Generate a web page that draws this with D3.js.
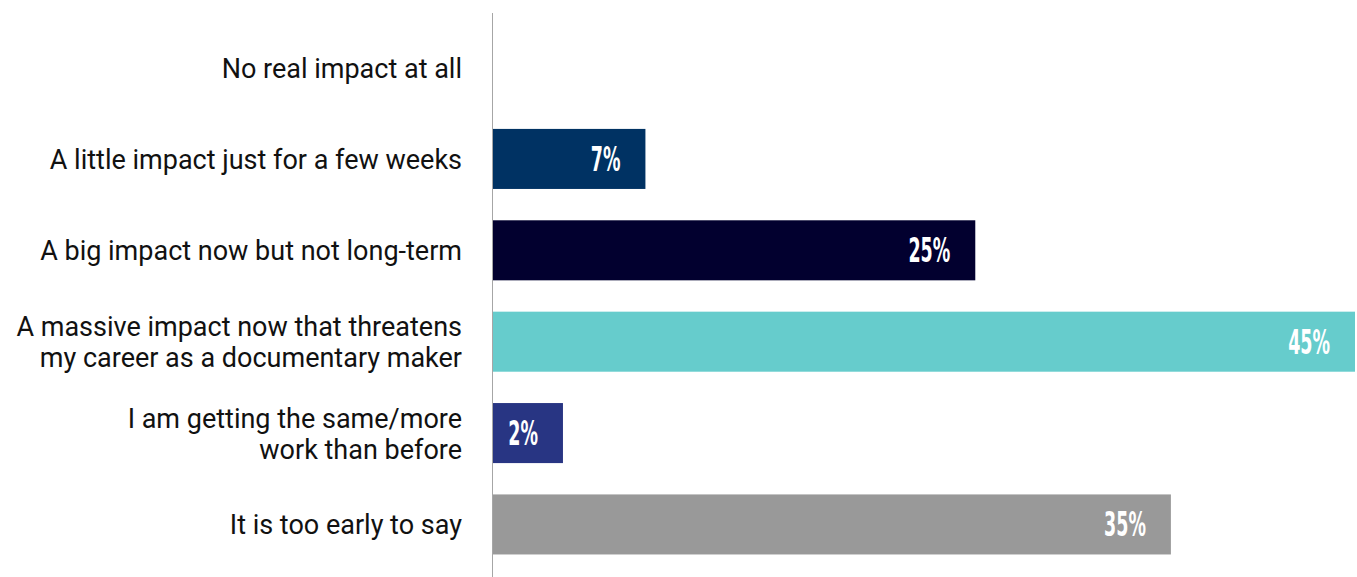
<!DOCTYPE html>
<html>
<head>
<meta charset="utf-8">
<script src="https://cdn.jsdelivr.net/npm/d3@7"></script>
<style>
  body { margin: 0; background: #fff; }
  svg { display: block; }
</style>
</head>
<body>
<div id="chart"></div>
<script>
// categories, top to bottom (one or two lines each)
var categories = [
    ["No real impact at all"],
    ["A little impact just for a few weeks"],
    ["A big impact now but not long-term"],
    ["A massive impact now that threatens", "my career as a documentary maker"],
    ["I am getting the same/more", "work than before"],
    ["It is too early to say"]
];
// bar lengths as drawn (in % units), and the printed labels
var values = [0, 8.0, 25.2, 45, 3.7, 35.4];
var valueLabels = ["", "7%", "25%", "45%", "2%", "35%"];
var colors = ["#003263", "#003263", "#02002f", "#66cccc", "#283583", "#999999"];

var svgWidth = 1357, svgHeight = 577;
var svg = d3.select("#chart").append("svg")
    .attr("width", svgWidth)
    .attr("height", svgHeight);

var x = d3.scaleLinear().domain([0, 45]).range([492, 1355]);
var y = d3.scaleBand()
    .domain(d3.range(categories.length))
    .range([22, 570])
    .paddingInner(0.343)
    .paddingOuter(0.17);

// bars
svg.selectAll("rect.bar").data(values).enter().append("rect")
    .attr("class", "bar")
    .attr("x", x(0))
    .attr("y", (d, i) => y(i))
    .attr("width", d => x(d) - x(0))
    .attr("height", y.bandwidth())
    .attr("fill", (d, i) => colors[i]);

// value labels, condensed bold white
svg.selectAll("text.val").data(values).enter().append("text")
    .attr("class", "val")
    .attr("transform", (d, i) => `translate(${x(d) - 25},${y(i) + y.bandwidth() / 2 + 12}) scale(0.53,1)`)
    .attr("text-anchor", "end")
    .style("font-family", "'DejaVu Sans', sans-serif")
    .style("font-weight", "bold")
    .style("font-size", "33px")
    .attr("fill", "#fff")
    .text((d, i) => valueLabels[i]);

// category labels
var lineH = 31;
svg.selectAll("text.cat").data(categories).enter().append("text")
    .attr("class", "cat")
    .attr("x", 462)
    .attr("y", (d, i) => y(i) + y.bandwidth() / 2 + 10 - (d.length - 1) * lineH / 2)
    .attr("text-anchor", "end")
    .style("font-family", "Roboto, sans-serif")
    .style("font-size", "27px")
    .attr("fill", "#111")
    .each(function(d) {
        var t = d3.select(this);
        d.forEach(function(line, k) {
            t.append("tspan").attr("x", 462).attr("dy", k === 0 ? 0 : lineH).text(line);
        });
    });

// vertical axis line
svg.append("line")
    .attr("x1", x(0) + 0.5).attr("x2", x(0) + 0.5)
    .attr("y1", 13).attr("y2", 577)
    .attr("stroke", "#a6a6a6")
    .attr("stroke-width", 1);
</script>
</body>
</html>
